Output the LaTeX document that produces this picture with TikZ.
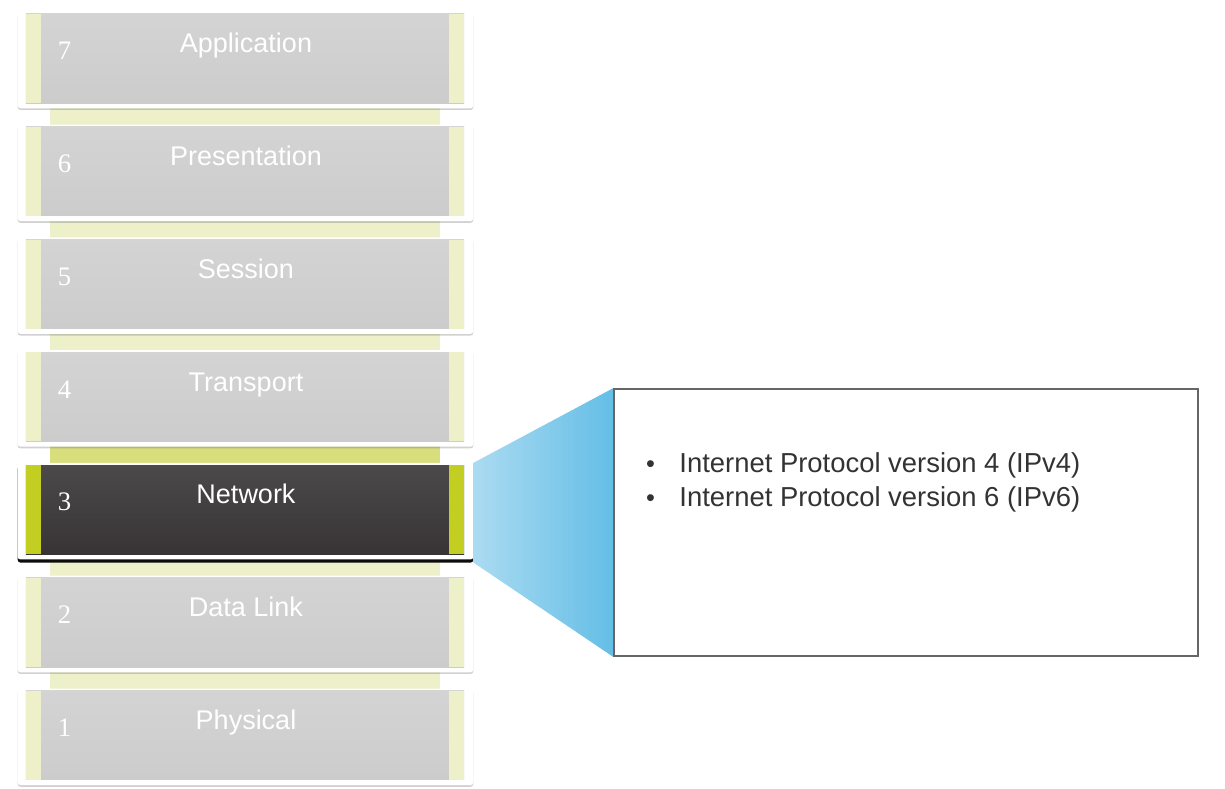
\documentclass[tikz,border=0pt]{standalone}
\usepackage{fontspec}
\setmainfont{Liberation Serif}
\setsansfont{Liberation Sans}
\usetikzlibrary{
  positioning,  % Function "of" (e.g. [below=of x])
  backgrounds,  % Bands and frames go on the background layer
  shadows,      % Shadow under the frames
  calc,         % Calculations $...$
}
\definecolor{paleband}{HTML}{EDF0C8}
\definecolor{hotband}{HTML}{D8DE7C}
\definecolor{limestrip}{HTML}{C2CF22}
\definecolor{netTop}{HTML}{4B494A}
\definecolor{netBot}{HTML}{383435}
\definecolor{skyl}{HTML}{ABDBF1}
\definecolor{skyd}{HTML}{64BEE6}
\def\layerw{10.95cm}
\def\layerh{2.225cm}
\def\stripw{0.375cm}
\tikzset{
  font=\sffamily,
  layer body/.style n args={3}{
    minimum width=\layerw,
    minimum height=\layerh,
    inner sep=0mm,
    top color=#1,
    bottom color=#2,
    path picture={
      \fill[#3] (path picture bounding box.north west)
        rectangle ([xshift=\stripw]path picture bounding box.south west);
      \fill[#3] (path picture bounding box.north east)
        rectangle ([xshift=-\stripw]path picture bounding box.south east);
    }
  },
  my layer/.style={
    layer body={black!17}{black!20}{paleband}
  },
  my hot layer/.style={
    layer body={netTop}{netBot}{limestrip}
  },
  my frame/.style={
    fill=white,
    rounded corners=0.7mm,
    drop shadow={shadow xshift=0pt,shadow yshift=-1.2pt,opacity=0.3,fill=black!60}
  },
  my hot frame/.style={
    fill=white,
    rounded corners=0.7mm,
    drop shadow={shadow xshift=0pt,shadow yshift=-2.2pt,opacity=0.95,fill=black}
  },
  my num/.style={
    font=\rmfamily\fontsize{19}{19}\selectfont,
    text=white,
    inner sep=0mm
  },
  my name/.style={
    font=\sffamily\fontsize{19.2}{19}\selectfont,
    text=white,
    inner sep=0mm
  },
  my box/.style={
    draw=black!60,
    line width=1.1pt,
    fill=white,
    minimum width=14.6cm,
    minimum height=6.675cm
  },
  my item/.style={
    text=black!80,
    font=\sffamily\fontsize{19.5}{24}\selectfont,
    inner sep=0mm,
    text height=0.6cm,
    text depth=0.25cm
  }
}
\newcommand{\itembullet}{\makebox[0.55cm]{\fontsize{18}{18}\selectfont\textbullet}\hspace{0.45cm}}

\begin{document}
\begin{tikzpicture}[x=0.025cm,y=-0.025cm]
\useasboundingbox (0,0) rectangle (1225,789);
% the seven layers
\foreach \n/\lbl in {7/Application,6/Presentation,5/Session,4/Transport,2/Data Link,1/Physical}{
  \node (L\n) [my layer] at (245,{14+(7-\n)*112.8+44.5}) {};
  \node (n\n) [my num,anchor=base] at ($(L\n.north west)+(39,46)$) {\n};
  \node (t\n) [my name,anchor=base] at ($(L\n.north)+(1,39)$) {\lbl};
}
\node (L3) [my hot layer] at (245,{14+4*112.8+44.5}) {};
\node (n3) [my num,anchor=base] at ($(L3.north west)+(39,46)$) {3};
\node (t3) [my name,anchor=base] at ($(L3.north)+(1,39)$) {Network};
% callout box
\node (ipbox) [my box] at (906,522.5) {};
\node (v4) [my item,anchor=west] at ($(ipbox.north west)+(26,77)$)
  {\itembullet Internet Protocol version 4 (IPv4)};
\node (v6) [my item,below=0pt of v4.south west,anchor=north west]
  {\itembullet Internet Protocol version 6 (IPv6)};
\coordinate (cTop) at ($(L3.north east)+(9,-2)$);
\coordinate (cBot) at ($(L3.south east)+(9,8)$);
\begin{scope}[on background layer]
  \foreach \n/\m in {7/6,6/5,5/4,3/2,2/1}
    \fill[paleband] ($(L\n.south west)+(24,0)$) rectangle ($(L\m.north east)+(-24,0)$);
  \fill[hotband] ($(L4.south west)+(24,0)$) rectangle ($(L3.north east)+(-24,0)$);
  \foreach \n in {7,6,5,4,2,1}
    \path[my frame] ($(L\n.north west)+(-8,-2)$) rectangle ($(L\n.south east)+(9,5)$);
  \path[my hot frame] ($(L3.north west)+(-8,-2)$) rectangle ($(L3.south east)+(9,5)$);
  \shade[left color=skyl,right color=skyd]
    (cTop) -- (ipbox.north west) -- (ipbox.south west) -- (cBot) -- cycle;
\end{scope}
\end{tikzpicture}
\end{document}
